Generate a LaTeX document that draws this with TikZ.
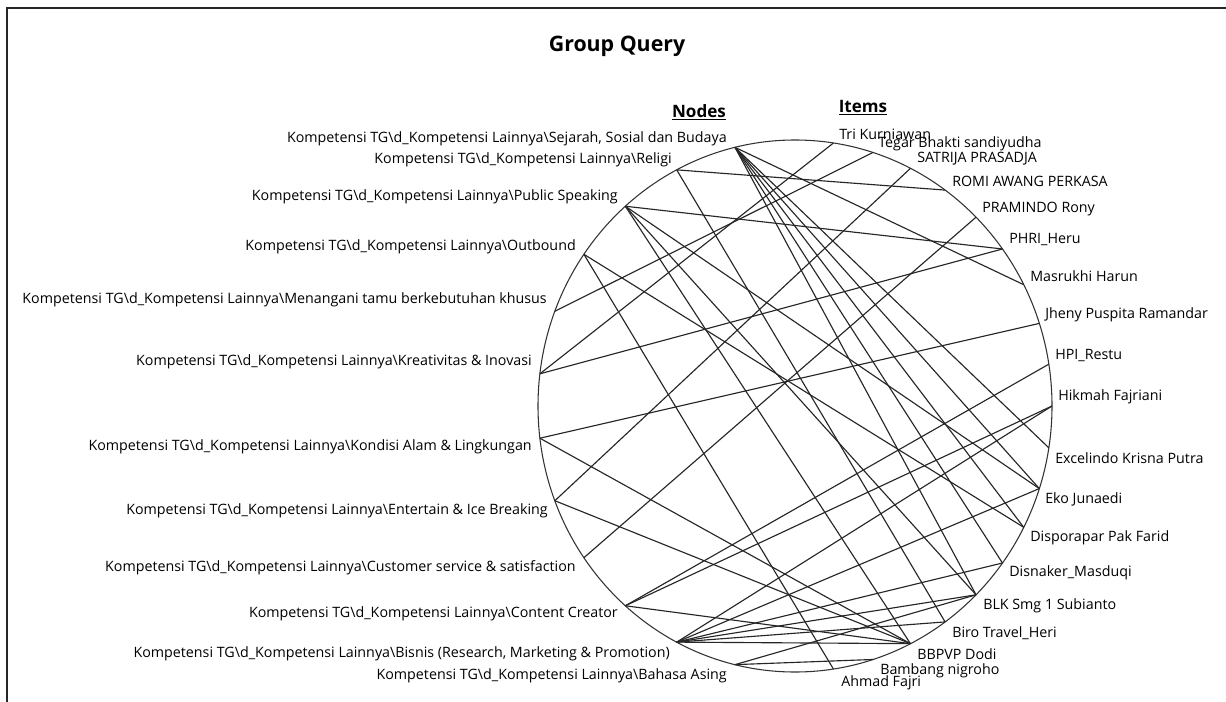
\documentclass[tikz,border=0pt]{standalone}
\usepackage{fontspec}
\setmainfont{Open Sans}
\begin{document}
\begin{tikzpicture}[x=0.75pt,y=-0.75pt,
  lbl/.style={font=\fontsize{10.7}{12}\selectfont, inner sep=0pt},
  llbl/.style={lbl,anchor=east},
  rlbl/.style={lbl,anchor=west},
  edge/.style={draw=black!85, line width=0.85pt},
  rim/.style={draw=black!80, line width=0.8pt},
  head/.style={font=\bfseries\fontsize{12.8}{14}\selectfont, inner sep=0pt}]
\useasboundingbox (0,0) rectangle (1226,702);
\fill[white] (0,0) rectangle (1226,702);
\draw[line width=1.6pt, black!85] (1226,8) -- (7,8) -- (7,702);
\node[font=\bfseries\fontsize{16}{18}\selectfont] (title) at (617,46) {Group Query};
\node[head] (nodes) at (699,112) {\underline{Nodes}};
\node[head] (items) at (863,108) {\underline{Items}};
\draw[rim] (795,406) ellipse [x radius=257, y radius=266];
\foreach \i in {1,...,12}{
  \pgfmathsetmacro\ang{103.5+13.909*(\i-1)}
  \coordinate (L\i) at ({795+257*cos(\ang)},{406-266*sin(\ang)});
}
\foreach \j in {1,...,19}{
  \pgfmathsetmacro\ang{81.4-9.0444*(\j-1)}
  \coordinate (R\j) at ({795+257*cos(\ang)},{406-266*sin(\ang)});
}
% left labels
\node[llbl] (tL1) at (727,139) {Kompetensi TG\textbackslash d\_Kompetensi Lainnya\textbackslash Sejarah, Sosial dan Budaya};
\node[llbl] (tL2) at (672,160) {Kompetensi TG\textbackslash d\_Kompetensi Lainnya\textbackslash Religi};
\node[llbl] (tL3) at (618,197) {Kompetensi TG\textbackslash d\_Kompetensi Lainnya\textbackslash Public Speaking};
\node[llbl] (tL4) at (576,247) {Kompetensi TG\textbackslash d\_Kompetensi Lainnya\textbackslash Outbound};
\node[llbl] (tL5) at (547,300) {Kompetensi TG\textbackslash d\_Kompetensi Lainnya\textbackslash Menangani tamu berkebutuhan khusus};
\node[llbl] (tL6) at (532,362) {Kompetensi TG\textbackslash d\_Kompetensi Lainnya\textbackslash Kreativitas \& Inovasi};
\node[llbl] (tL7) at (532,447) {Kompetensi TG\textbackslash d\_Kompetensi Lainnya\textbackslash Kondisi Alam \& Lingkungan};
\node[llbl] (tL8) at (548,511) {Kompetensi TG\textbackslash d\_Kompetensi Lainnya\textbackslash Entertain \& Ice Breaking};
\node[llbl] (tL9) at (576,568) {Kompetensi TG\textbackslash d\_Kompetensi Lainnya\textbackslash Customer service \& satisfaction};
\node[llbl] (tL10) at (618,614) {Kompetensi TG\textbackslash d\_Kompetensi Lainnya\textbackslash Content Creator};
\node[llbl] (tL11) at (670,654) {Kompetensi TG\textbackslash d\_Kompetensi Lainnya\textbackslash Bisnis (Research, Marketing \& Promotion)};
\node[llbl] (tL12) at (727,676) {Kompetensi TG\textbackslash d\_Kompetensi Lainnya\textbackslash Bahasa Asing};
% right labels
\node[rlbl] (tR1) at (839,134) {Tri Kurniawan};
\node[rlbl] (tR2) at (878,144) {Tegar Bhakti sandiyudha};
\node[rlbl] (tR3) at (917,159) {SATRIJA PRASADJA};
\node[rlbl] (tR4) at (952,181) {ROMI AWANG PERKASA};
\node[rlbl] (tR5) at (982,209) {PRAMINDO Rony};
\node[rlbl] (tR6) at (1009,240) {PHRI\_Heru};
\node[rlbl] (tR7) at (1030,276) {Masrukhi Harun};
\node[rlbl] (tR8) at (1045,315) {Jheny Puspita Ramandar};
\node[rlbl] (tR9) at (1055,356) {HPI\_Restu};
\node[rlbl] (tR10) at (1058,397) {Hikmah Fajriani};
\node[rlbl] (tR11) at (1055,458) {Excelindo Krisna Putra};
\node[rlbl] (tR12) at (1045,499) {Eko Junaedi};
\node[rlbl] (tR13) at (1030,538) {Disporapar Pak Farid};
\node[rlbl] (tR14) at (1009,573) {Disnaker\_Masduqi};
\node[rlbl] (tR15) at (983,606) {BLK Smg 1 Subianto};
\node[rlbl] (tR16) at (952,633) {Biro Travel\_Heri};
\node[rlbl] (tR17) at (917,654) {BBPVP Dodi};
\node[rlbl] (tR18) at (880,671) {Bambang nigroho};
\node[rlbl] (tR19) at (841,683) {Ahmad Fajri};
% connectors
\foreach \a/\b in {1/7,1/11,1/12,1/13,1/14,1/15,
                   2/4,2/16,
                   3/6,3/12,3/15,3/17,
                   4/13,4/19,
                   5/2,
                   6/1,6/6,
                   7/8,7/17,
                   8/3,8/17,
                   9/5,
                   10/9,10/10,10/17,
                   11/10,11/12,11/14,11/15,11/16,11/17,
                   12/15,12/18}
  \draw[edge] (L\a) -- (R\b);
\end{tikzpicture}
\end{document}
